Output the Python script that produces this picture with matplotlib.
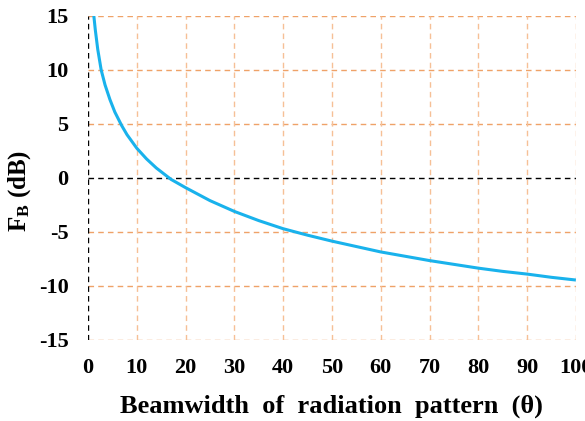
import matplotlib
matplotlib.use("Agg")
import matplotlib.pyplot as plt

# ── data ──────────────────────────────────────────────────────────────────────
beamwidth = [1.2, 1.5, 2, 2.7, 3.5, 4.5, 5.5, 6.9, 8, 10, 12, 14, 17, 20, 25,
             30, 35, 40, 45, 50, 55, 60, 65, 70, 75, 80, 85, 90, 95, 100]
fb_db     = [15.0, 13.7, 11.9, 10.0, 8.6, 7.25, 6.1, 4.85, 4.0, 2.75, 1.76,
             0.92, -0.13, -0.9, -2.1, -3.1, -3.95, -4.7, -5.3, -5.85, -6.35,
             -6.85, -7.25, -7.65, -8.0, -8.35, -8.65, -8.9, -9.2, -9.45]
x_ticks = list(range(0, 101, 10))
y_ticks = list(range(-15, 16, 5))

plt.rcParams["font.family"] = ["Liberation Serif", "DejaVu Serif"]
plt.rcParams["font.weight"] = "bold"
plt.rcParams["axes.unicode_minus"] = False
plt.rcParams["mathtext.fontset"] = "custom"
plt.rcParams["mathtext.rm"] = "Liberation Serif:bold"
plt.rcParams["mathtext.bf"] = "Liberation Serif:bold"
plt.rcParams["mathtext.it"] = "Liberation Serif:bold"

fig = plt.figure(figsize=(5.85, 4.21), dpi=100)
ax = fig.add_axes([0.1504, 0.1924, 0.834, 0.77])

grid_h = "#EFA268"
grid_v = "#F6C096"
dash = (0, (4, 3))
for y in y_ticks:
    if y == 0:
        ax.axhline(y, color="black", lw=1.0, ls=dash, zorder=2)
    else:
        ax.axhline(y, color=grid_h, lw=1.0, ls=dash, zorder=1)
for x in x_ticks:
    if x == 0:
        ax.axvline(x, color="black", lw=1.0, ls=dash, zorder=2)
    else:
        ax.axvline(x, color=grid_v, lw=1.0, ls=dash, zorder=1)

ax.plot(beamwidth, fb_db, color="#19B2EC", lw=2.2, zorder=3,
        solid_capstyle="butt", solid_joinstyle="round")

ax.set_xlim(0, 100)
ax.set_ylim(-15, 15)
ax.set_xticks(x_ticks)
ax.set_yticks(y_ticks)
for s in ax.spines.values():
    s.set_visible(False)
ax.tick_params(length=0, labelsize=16)
ax.tick_params(axis="y", pad=14)
ax.tick_params(axis="x", pad=13)
for lab in ax.get_xticklabels() + ax.get_yticklabels():
    lab.set_fontweight("bold")

ax.set_xlabel("Beamwidth  of  radiation  pattern  (θ)", fontsize=19,
              fontweight="bold", labelpad=12)
ax.set_ylabel(r"F$_\mathbf{B}$ (dB)", fontsize=18, fontweight="bold")
ax.yaxis.set_label_coords(-0.113, 0.46)

fig.savefig("out.png", dpi=100)
